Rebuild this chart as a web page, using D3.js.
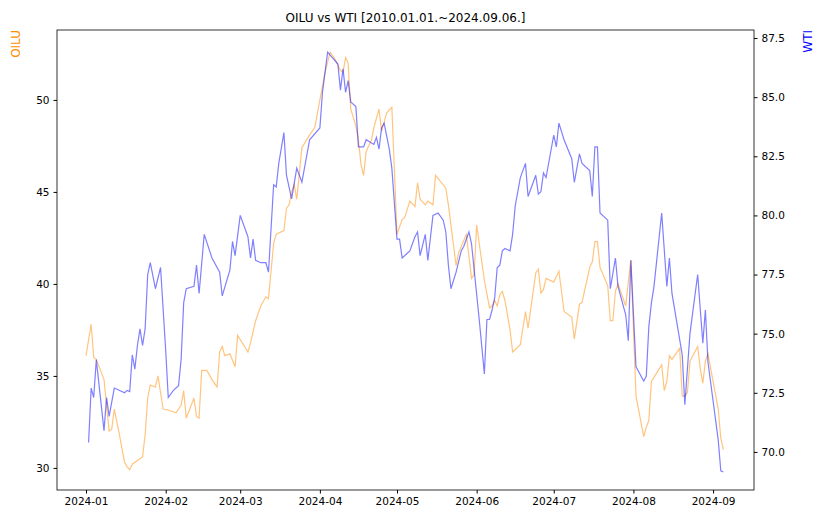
<!DOCTYPE html>
<html>
<head>
<meta charset="utf-8">
<script src="https://cdn.jsdelivr.net/npm/d3@7"></script>
<style>
  body { margin: 0; background: #fff; }
  text { font-family: "DejaVu Sans", sans-serif; }
</style>
</head>
<body>
<svg id="chart" width="824" height="526"></svg>
<script>
// day offset from 2024-01-01
const oiluDay = [0,2,3,4,7,9,10,11,13,15,16,17,18,22,23,24,25,27,28,30,32,35,37,38,39,42,43,44,45,47,49,51,52,53,54,56,58,59,63,64,66,68,70,71,72,73,74,77,78,79,80,81,82,84,87,89,93,95,97,99,100,101,102,103,105,106,107,108,109,111,112,114,115,117,119,121,123,124,126,128,129,130,132,133,135,136,140,141,144,145,148,150,151,152,155,157,158,159,160,161,162,163,165,166,169,171,172,175,176,177,178,179,182,184,186,189,190,192,193,196,197,198,199,200,203,204,205,206,207,210,211,212,214,217,218,219,220,224,225,226,227,228,231,232,233,234,235,238,239,240,241,242,246,247,248];
const oiluVal = [36.1,37.8,36.0,35.9,34.8,32.0,32.1,33.2,31.8,30.3,30.05,29.9,30.2,30.6,31.8,33.8,34.5,34.4,35.0,33.2,33.15,33.0,33.4,34.2,32.7,33.8,32.8,32.7,35.3,35.3,34.8,34.4,36.3,36.6,36.1,36.2,35.5,37.2,36.3,36.8,38.0,38.8,39.3,39.2,40.7,42.2,42.7,42.9,44.1,44.3,45.0,45.4,44.6,47.4,48.1,48.5,51.5,52.6,52.2,51.6,51.5,52.3,52.0,49.5,48.6,47.8,46.5,45.9,47.2,47.8,48.5,49.5,48.3,49.3,49.6,42.7,43.5,43.6,44.5,44.2,45.5,44.6,44.3,44.5,44.3,45.9,45.2,44.3,41.0,41.7,42.7,40.3,40.5,43.2,40.2,38.7,38.8,39.1,38.8,39.4,39.6,39.1,37.5,36.3,36.7,38.5,37.6,40.6,40.8,39.5,39.7,40.3,40.1,40.7,38.5,38.2,37.0,38.9,39.0,40.9,41.2,42.3,42.3,40.9,39.9,38.0,38.0,39.6,40.0,38.8,40.1,41.3,33.9,31.7,32.2,32.6,34.7,35.6,34.2,34.7,36.1,35.9,36.5,33.9,33.9,34.1,35.8,36.6,35.4,34.6,35.8,36.2,33.2,31.6,31.0];

const wtiDay = [1,2,3,4,7,8,9,11,15,16,17,18,19,20,21,22,23,24,25,27,29,31,32,34,36,37,38,39,42,43,44,46,49,52,53,56,57,58,60,63,64,65,66,68,70,71,73,74,75,77,78,80,82,84,87,91,92,94,98,99,100,101,102,103,105,106,108,109,112,113,114,115,116,118,119,121,122,123,125,126,128,129,130,132,133,135,137,139,140,141,142,144,146,147,149,150,153,155,156,157,158,159,160,161,162,163,165,166,167,169,171,172,175,176,177,178,179,182,183,184,186,189,190,192,193,196,197,198,199,200,203,204,206,207,210,211,212,214,217,218,219,220,221,224,226,227,228,232,233,235,238,240,241,242,246,247,248];
const wtiVal = [70.4,72.7,72.3,73.9,70.9,72.3,71.5,72.7,72.5,72.6,72.55,74.1,73.5,74.5,75.2,74.5,75.2,77.5,78.0,76.9,77.8,74.3,72.3,72.6,72.8,73.9,76.3,76.9,77.0,77.9,76.7,79.2,78.2,77.6,76.6,77.7,78.9,78.3,80.0,79.1,78.2,79.0,78.1,78.0,78.0,77.6,81.3,81.2,82.2,83.5,81.7,80.7,82.0,81.4,83.2,83.7,85.2,86.9,86.4,85.3,86.2,85.2,85.7,84.8,84.6,82.9,82.9,83.2,83.0,83.3,82.8,83.7,83.9,82.8,82.0,79.0,79.0,78.2,78.4,78.5,79.1,79.3,78.3,79.2,78.1,80.0,80.1,79.8,79.3,77.9,76.9,77.6,78.5,78.7,79.3,78.8,75.6,73.3,75.6,75.6,76.0,76.5,77.8,77.9,78.5,78.6,78.5,79.2,80.4,81.6,82.2,80.8,81.7,80.9,81.0,81.8,81.6,83.4,82.9,83.9,83.2,82.4,81.4,82.6,82.2,81.9,80.8,82.9,82.9,80.1,79.8,76.9,78.2,77.0,75.8,74.7,78.1,73.6,73.0,73.2,75.3,76.3,77.0,80.1,77.0,78.2,76.7,74.1,72.0,75.0,77.5,74.6,76.0,73.8,70.5,69.2,69.15];

const monthTicks = ["2024-01","2024-02","2024-03","2024-04","2024-05","2024-06","2024-07","2024-08","2024-09"];
const oiluTicks = [30, 35, 40, 45, 50];
const wtiTicks = [70.0, 72.5, 75.0, 77.5, 80.0, 82.5, 85.0, 87.5];

const start = new Date(2024, 0, 1);
const toDate = d => d3.timeHour.offset(start, Math.round(d * 24));

const pL = 57, pR = 754, pT = 30, pB = 490;
const svg = d3.select("#chart");

const x = d3.scaleTime().domain([toDate(-11.3), toDate(259.9)]).range([pL, pR]);
const yL = d3.scaleLinear().domain([28.8, 53.8]).range([pB, pT]);
const yR = d3.scaleLinear().domain([68.39, 87.84]).range([pB, pT]);

const parse = d3.timeParse("%Y-%m");

const styleAxis = g => {
  g.selectAll("text").attr("font-size", 10.5).attr("fill", "#000").attr("font-family", "DejaVu Sans, sans-serif");
  g.selectAll("line").attr("stroke", "#000");
  g.select(".domain").remove();
};

svg.append("g").attr("transform", `translate(0,${pB})`)
  .call(d3.axisBottom(x).tickValues(monthTicks.map(parse)).tickFormat(d3.timeFormat("%Y-%m")).tickSize(3.5).tickPadding(4))
  .call(styleAxis);
svg.append("g").attr("transform", `translate(${pL},0)`)
  .call(d3.axisLeft(yL).tickValues(oiluTicks).tickFormat(d3.format("d")).tickSize(3.5).tickPadding(4))
  .call(styleAxis);
svg.append("g").attr("transform", `translate(${pR},0)`)
  .call(d3.axisRight(yR).tickValues(wtiTicks).tickFormat(d3.format(".1f")).tickSize(3.5).tickPadding(4))
  .call(styleAxis);

const oilu = oiluDay.map((d, i) => [toDate(d), oiluVal[i]]);
const wti = wtiDay.map((d, i) => [toDate(d), wtiVal[i]]);

svg.append("path").datum(oilu)
  .attr("fill", "none").attr("stroke", "darkorange").attr("stroke-opacity", 0.5).attr("stroke-width", 1.2)
  .attr("d", d3.line().x(d => x(d[0])).y(d => yL(d[1])));
svg.append("path").datum(wti)
  .attr("fill", "none").attr("stroke", "blue").attr("stroke-opacity", 0.5).attr("stroke-width", 1.2)
  .attr("d", d3.line().x(d => x(d[0])).y(d => yR(d[1])));

svg.append("rect").attr("x", pL).attr("y", pT).attr("width", pR - pL).attr("height", pB - pT)
  .attr("fill", "none").attr("stroke", "#000").attr("stroke-width", 0.8);

svg.append("text").attr("x", (pL + pR) / 2).attr("y", 22).attr("text-anchor", "middle")
  .attr("font-size", 12).text("OILU vs WTI [2010.01.01.~2024.09.06.]");
svg.append("text").attr("transform", `translate(20,${pT}) rotate(-90)`).attr("text-anchor", "end")
  .attr("font-size", 12).attr("fill", "darkorange").text("OILU");
svg.append("text").attr("transform", `translate(812,${pT}) rotate(-90)`).attr("text-anchor", "end")
  .attr("font-size", 12).attr("fill", "blue").text("WTI");
</script>
</body>
</html>
